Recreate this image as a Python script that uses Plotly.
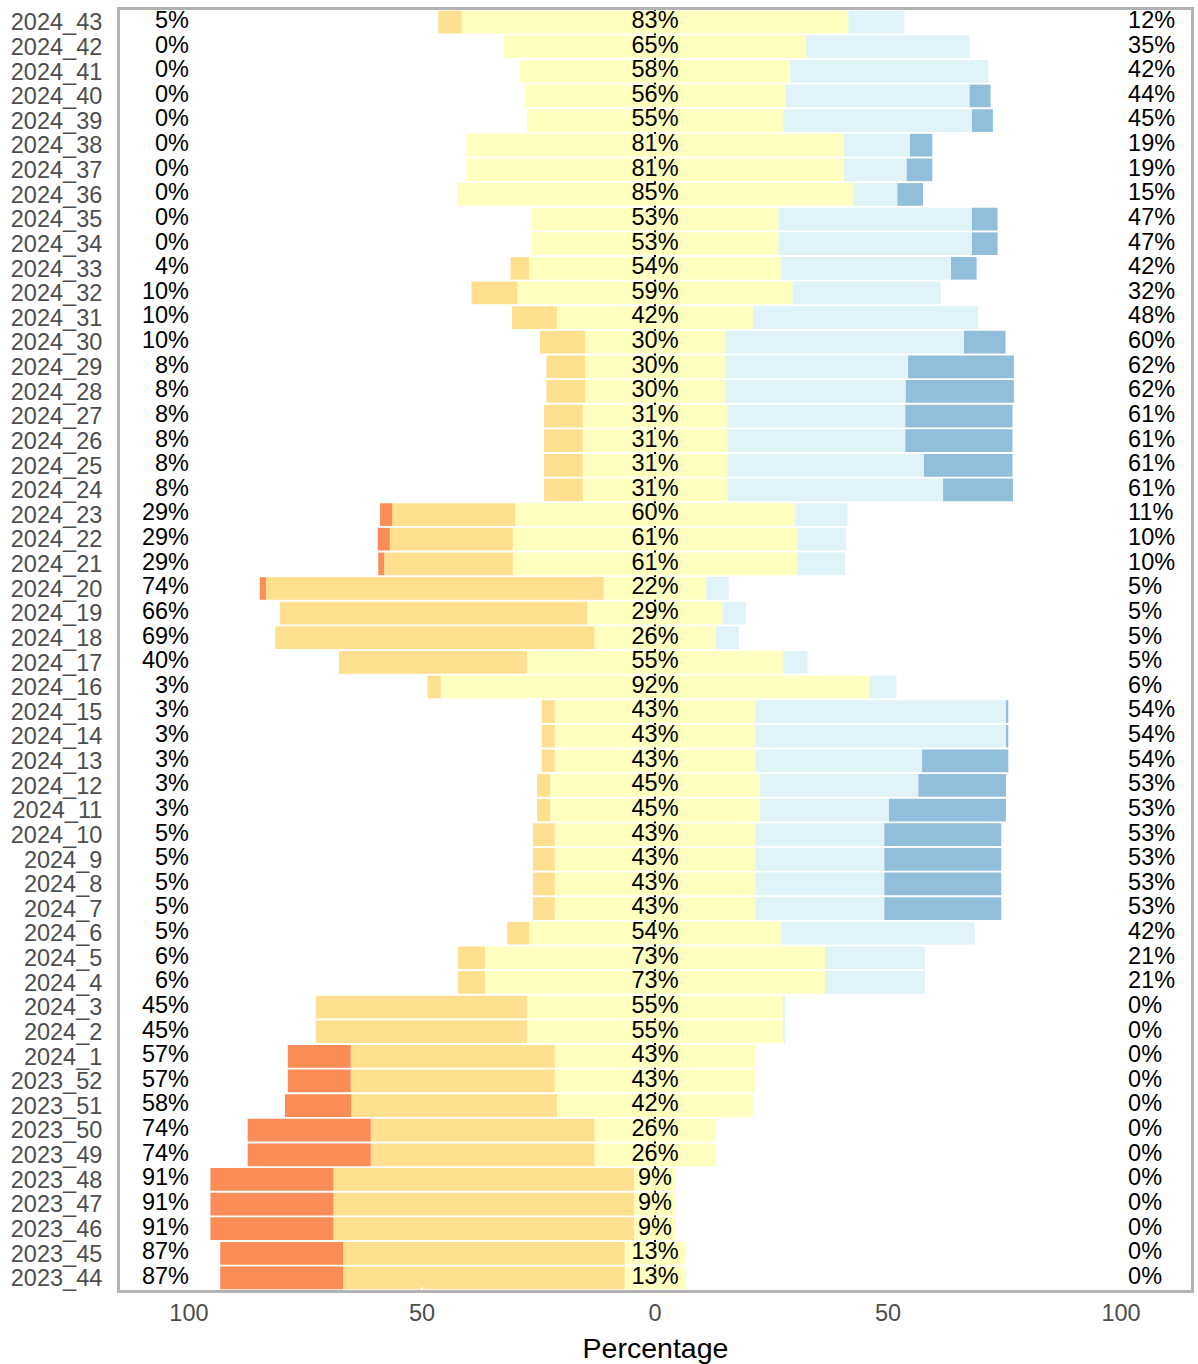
import plotly.graph_objects as go

# rows from bottom (2023_44) to top (2024_43)
weeks = ["2023_44", "2023_45", "2023_46", "2023_47", "2023_48", "2023_49", "2023_50",
         "2023_51", "2023_52", "2024_1", "2024_2", "2024_3", "2024_4", "2024_5", "2024_6",
         "2024_7", "2024_8", "2024_9", "2024_10", "2024_11", "2024_12", "2024_13", "2024_14",
         "2024_15", "2024_16", "2024_17", "2024_18", "2024_19", "2024_20", "2024_21", "2024_22",
         "2024_23", "2024_24", "2024_25", "2024_26", "2024_27", "2024_28", "2024_29", "2024_30",
         "2024_31", "2024_32", "2024_33", "2024_34", "2024_35", "2024_36", "2024_37", "2024_38",
         "2024_39", "2024_40", "2024_41", "2024_42", "2024_43"]

strong_neg = [26.4, 26.4, 26.4, 26.4, 26.4, 26.4, 26.4, 14.2, 13.5, 13.5, 0, 0, 0, 0, 0,
              0, 0, 0, 0, 0, 0, 0, 0, 0, 0, 0, 0, 0, 1.3, 1.3, 2.6,
              2.6, 0, 0, 0, 0, 0, 0, 0, 0, 0, 0, 0, 0, 0, 0, 0,
              0, 0, 0, 0, 0]
neg = [60.4, 60.4, 64.5, 64.5, 64.5, 48.0, 48.0, 44.2, 43.8, 43.8, 45.3, 45.3, 5.8, 5.8, 4.7,
       4.7, 4.7, 4.7, 4.7, 2.8, 2.8, 2.8, 2.8, 2.8, 2.8, 40.3, 68.5, 66.0, 72.5, 27.6, 26.4,
       26.4, 8.3, 8.3, 8.3, 8.3, 8.3, 8.3, 9.7, 9.7, 9.9, 4.0, 0, 0, 0, 0, 0,
       0, 0, 0, 0, 5.0]
neutral = [13, 13, 9, 9, 9, 26, 26, 42, 43, 43, 55, 55, 73, 73, 54,
           43, 43, 43, 43, 45, 45, 43, 43, 43, 92, 55, 26, 29, 22, 61, 61,
           60, 31, 31, 31, 31, 30, 30, 30, 42, 59, 54, 53, 53, 85, 81, 81,
           55, 56, 58, 65, 83]
pos = [0, 0, 0, 0, 0, 0, 0, 0, 0, 0, 0.4, 0.4, 21.4, 21.4, 41.6,
       27.7, 27.7, 27.7, 27.7, 27.7, 34.0, 35.8, 54.0, 54.0, 5.8, 5.2, 5.0, 5.0, 4.8, 10.3, 10.5,
       11.3, 46.3, 42.2, 38.2, 38.2, 38.8, 39.3, 51.3, 48.3, 31.8, 36.5, 41.5, 41.5, 9.5, 13.5, 14.2,
       40.5, 39.5, 42.5, 35.0, 12.0]
strong_pos = [0, 0, 0, 0, 0, 0, 0, 0, 0, 0, 0, 0, 0, 0, 0,
              25.1, 25.1, 25.1, 25.1, 25.1, 18.8, 18.5, 0.3, 0.3, 0, 0, 0, 0, 0, 0, 0,
              0, 15.0, 19.0, 23.0, 23.0, 23.2, 22.7, 8.9, 0, 0, 5.5, 5.5, 5.5, 5.5, 5.5, 4.8,
              4.5, 4.5, 0, 0, 0]

neg_labels = ["87%", "87%", "91%", "91%", "91%", "74%", "74%", "58%", "57%", "57%", "45%", "45%",
              "6%", "6%", "5%", "5%", "5%", "5%", "5%", "3%", "3%", "3%", "3%", "3%", "3%", "40%",
              "69%", "66%", "74%", "29%", "29%", "29%", "8%", "8%", "8%", "8%", "8%", "8%", "10%",
              "10%", "10%", "4%", "0%", "0%", "0%", "0%", "0%", "0%", "0%", "0%", "0%", "5%"]
neutral_labels = ["13%", "13%", "9%", "9%", "9%", "26%", "26%", "42%", "43%", "43%", "55%", "55%",
                  "73%", "73%", "54%", "43%", "43%", "43%", "43%", "45%", "45%", "43%", "43%", "43%",
                  "92%", "55%", "26%", "29%", "22%", "61%", "61%", "60%", "31%", "31%", "31%", "31%",
                  "30%", "30%", "30%", "42%", "59%", "54%", "53%", "53%", "85%", "81%", "81%", "55%",
                  "56%", "58%", "65%", "83%"]
pos_labels = ["0%", "0%", "0%", "0%", "0%", "0%", "0%", "0%", "0%", "0%", "0%", "0%", "21%", "21%",
              "42%", "53%", "53%", "53%", "53%", "53%", "53%", "54%", "54%", "54%", "6%", "5%", "5%",
              "5%", "5%", "10%", "10%", "11%", "61%", "61%", "61%", "61%", "62%", "62%", "60%", "48%",
              "32%", "42%", "47%", "47%", "15%", "19%", "19%", "45%", "44%", "42%", "35%", "12%"]

x_tick_vals = [-100, -50, 0, 50, 100]
x_tick_text = ["100", "50", "0", "50", "100"]

c_strong_neg = "#FC8D59"
c_neg = "#FEE090"
c_neutral = "#FFFFBF"
c_pos = "#E0F3F8"
c_strong_pos = "#91BFDB"

ypos = list(range(len(weeks)))
half = [v / 2 for v in neutral]
W = 0.92
FONT = "Liberation Sans, Arial, sans-serif"

fig = go.Figure()
def bar(vals, color, sign):
    fig.add_trace(go.Bar(y=ypos, x=[sign * v for v in vals], orientation="h", width=W,
                         marker=dict(color=color, line=dict(width=0)), showlegend=False,
                         hoverinfo="skip"))

bar(half, c_neutral, -1)
bar(half, c_neutral, 1)
bar(neg, c_neg, -1)
bar(pos, c_pos, 1)
bar(strong_neg, c_strong_neg, -1)
bar(strong_pos, c_strong_pos, 1)

txtfont = dict(family=FONT, size=23.5, color="black")
fig.add_trace(go.Scatter(y=ypos, x=[-100] * len(weeks), mode="text", text=neg_labels,
                         textposition="middle left", textfont=txtfont, showlegend=False,
                         cliponaxis=False, hoverinfo="skip"))
fig.add_trace(go.Scatter(y=ypos, x=[0] * len(weeks), mode="text", text=neutral_labels,
                         textposition="middle center", textfont=txtfont, showlegend=False,
                         cliponaxis=False, hoverinfo="skip"))
fig.add_trace(go.Scatter(y=ypos, x=[101.5] * len(weeks), mode="text", text=pos_labels,
                         textposition="middle right", textfont=txtfont, showlegend=False,
                         cliponaxis=False, hoverinfo="skip"))

fig.update_layout(
    barmode="relative",
    width=1198, height=1364,
    margin=dict(l=120, r=7, t=10, b=74, autoexpand=False),
    plot_bgcolor="white", paper_bgcolor="white",
    font=dict(family=FONT, size=23.5, color="#4d4d4d"),
    xaxis=dict(range=[-114.8, 115.0], tickvals=x_tick_vals, ticktext=x_tick_text,
               showgrid=False, zeroline=True, zerolinecolor="black", zerolinewidth=1.5,
               showline=True, mirror=True, linecolor="#b3b3b3", linewidth=3,
               ticks="inside", tickcolor="white", ticklen=3, tickwidth=2,
               tickfont=dict(size=23.5, color="#4d4d4d"), automargin=False,
               title=dict(text="Percentage", font=dict(size=28.5, color="black"))),
    yaxis=dict(range=[-0.49, 51.49], tickvals=ypos, ticktext=weeks, showgrid=False,
               zeroline=False, showline=True, mirror=True, linecolor="#b3b3b3", linewidth=3,
               ticks="inside", tickcolor="white", ticklen=3, tickwidth=2, automargin=False,
               ticklabelstandoff=10,
               tickfont=dict(size=23.5, color="#4d4d4d")),
)

# remove the page's default body margin so the figure fills the window exactly
fig.write_html("out.html", config={"displayModeBar": False},
               post_script="document.body.style.margin='0';document.body.style.overflow='hidden';")
